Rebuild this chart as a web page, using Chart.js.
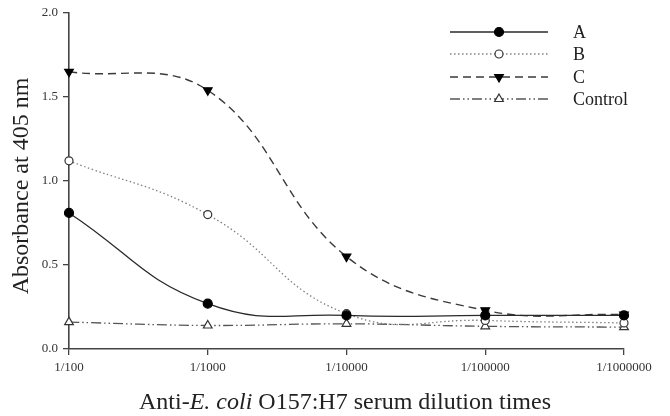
<!DOCTYPE html>
<html>
<head>
<meta charset="utf-8">
<script src="https://cdn.jsdelivr.net/npm/chart.js@4"></script>
<style>
  html, body { margin: 0; padding: 0; background: #fff; }
  #wrap { width: 670px; height: 416px; position: relative; }
</style>
</head>
<body>
<div id="wrap"><canvas id="c"></canvas></div>
<script>
const categories = ["1/100", "1/1000", "1/10000", "1/100000", "1/1000000"];
const seriesA = [0.81, 0.27, 0.20, 0.20, 0.20];
const seriesB = [1.12, 0.80, 0.21, 0.17, 0.155];
const seriesC = [1.65, 1.54, 0.55, 0.23, 0.205];
const seriesControl = [0.16, 0.14, 0.15, 0.135, 0.13];
const seriesNames = ["A", "B", "C", "Control"];
const yTicks = [0, 0.5, 1.0, 1.5, 2.0];
const yTitle = "Absorbance at 405 nm";
const xTitleParts = [["Anti-", false], ["E. coli", true], [" O157:H7 serum dilution times", false]];

const SERIF = '"Liberation Serif", "DejaVu Serif", serif';

const datasets = [
  { label: seriesNames[0], data: seriesA, borderColor: '#2a2a2a', borderWidth: 1.3, borderDash: [], tension: 0.45,
    pointStyle: 'circle', pointRadius: 4.5, pointBackgroundColor: '#000', pointBorderColor: '#000', pointRotation: 0 },
  { label: seriesNames[1], data: seriesB, borderColor: '#808080', borderWidth: 1.3, borderDash: [1.5, 2.5], tension: 0.45,
    pointStyle: 'circle', pointRadius: 4, pointBackgroundColor: '#fff', pointBorderColor: '#333', pointRotation: 0 },
  { label: seriesNames[2], data: seriesC, borderColor: '#3a3a3a', borderWidth: 1.4, borderDash: [8, 5], tension: 0.4,
    pointStyle: 'triangle', pointRadius: 5, pointBackgroundColor: '#000', pointBorderColor: '#000', pointRotation: 180 },
  { label: seriesNames[3], data: seriesControl, borderColor: '#555', borderWidth: 1.3, borderDash: [10, 3, 1.5, 3, 1.5, 3], tension: 0.4,
    pointStyle: 'triangle', pointRadius: 5, pointBackgroundColor: '#fff', pointBorderColor: '#333', pointRotation: 0 }
];
datasets.forEach(d => { d.fill = false; d.pointBorderWidth = 1.2; });

const titlesLegend = {
  id: 'titlesLegend',
  afterDraw(chart) {
    const ctx = chart.ctx;
    ctx.save();
    // y title
    ctx.fillStyle = '#222';
    ctx.font = '24px ' + SERIF;
    ctx.textAlign = 'center';
    ctx.textBaseline = 'middle';
    ctx.translate(22, 186);
    ctx.rotate(-Math.PI / 2);
    ctx.fillText(yTitle, 0, 0);
    ctx.restore();

    // x title with italic part
    ctx.save();
    ctx.fillStyle = '#222';
    ctx.textBaseline = 'middle';
    ctx.textAlign = 'left';
    let total = 0;
    const fonts = xTitleParts.map(p => (p[1] ? 'italic ' : '') + '24px ' + SERIF);
    xTitleParts.forEach((p, i) => { ctx.font = fonts[i]; total += ctx.measureText(p[0]).width; });
    let x = 345 - total / 2;
    const y = 403;
    xTitleParts.forEach((p, i) => { ctx.font = fonts[i]; ctx.fillText(p[0], x, y); x += ctx.measureText(p[0]).width; });
    ctx.restore();

    // legend
    const lx0 = 450, lx1 = 548, mx = 499, tx = 573;
    const rows = [32, 54, 77, 99];
    chart.data.datasets.forEach((d, i) => {
      const ry = rows[i];
      ctx.save();
      ctx.strokeStyle = d.borderColor;
      ctx.lineWidth = d.borderWidth;
      ctx.setLineDash(d.borderDash);
      ctx.beginPath();
      ctx.moveTo(lx0, ry);
      ctx.lineTo(lx1, ry);
      ctx.stroke();
      ctx.setLineDash([]);
      ctx.fillStyle = d.pointBackgroundColor;
      ctx.strokeStyle = d.pointBorderColor;
      ctx.lineWidth = d.pointBorderWidth;
      Chart.helpers.drawPoint(ctx, {
        pointStyle: d.pointStyle, radius: d.pointRadius, rotation: d.pointRotation, borderWidth: d.pointBorderWidth
      }, mx, ry);
      ctx.fillStyle = '#222';
      ctx.font = '18px ' + SERIF;
      ctx.textAlign = 'left';
      ctx.textBaseline = 'middle';
      ctx.fillText(d.label, tx, ry + 1);
      ctx.restore();
    });
  }
};

new Chart(document.getElementById('c'), {
  type: 'line',
  data: { labels: categories, datasets },
  options: {
    responsive: true,
    maintainAspectRatio: false,
    animation: false,
    layout: { padding: { top: 13, right: 46, left: 0, bottom: 0 } },
    plugins: { legend: { display: false }, tooltip: { enabled: false } },
    scales: {
      x: {
        type: 'category',
        offset: false,
        afterFit(s) { s.height = 67; },
        grid: { drawOnChartArea: false, drawTicks: true, tickLength: 6, color: '#444', lineWidth: 1.3 },
        border: { display: true, color: '#444', width: 1.6 },
        ticks: { color: '#333', font: { family: SERIF, size: 13 }, padding: 5, maxRotation: 0, autoSkip: false }
      },
      y: {
        min: 0, max: 2,
        afterFit(s) { s.width = 69; },
        afterBuildTicks(s) { s.ticks = yTicks.map(v => ({ value: v })); },
        grid: { drawOnChartArea: false, drawTicks: true, tickLength: 6, color: '#444', lineWidth: 1.3 },
        border: { display: true, color: '#444', width: 1.6 },
        ticks: { color: '#333', font: { family: SERIF, size: 13 }, padding: 5, callback: v => Number(v).toFixed(1) }
      }
    }
  },
  plugins: [titlesLegend]
});
</script>
</body>
</html>
